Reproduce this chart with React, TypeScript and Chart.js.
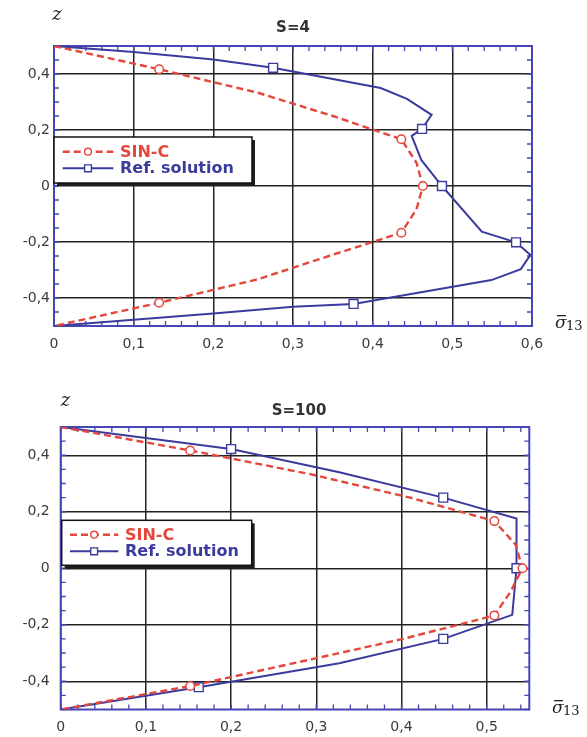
import React, { useEffect, useRef } from 'react';
import { Chart, registerables } from 'chart.js';

Chart.register(...registerables);

// ---------- data ----------
const Z_SINC = [0.5, 0.417, 0.333, 0.25, 0.167, 0.083, 0, -0.083, -0.167, -0.25, -0.333, -0.417, -0.5];
const SINC_MARKS = [1, 4, 6, 8, 11];

const S4_SINC_X = [0, 0.132, 0.256, 0.35, 0.436, 0.455, 0.463, 0.455, 0.436, 0.345, 0.256, 0.132, 0];
const S4_REF_X = [0, 0.1, 0.2, 0.275, 0.41, 0.443, 0.474, 0.462, 0.449, 0.461, 0.487, 0.537, 0.58, 0.598, 0.586, 0.549, 0.376, 0.3, 0.2, 0.1, 0];
const S4_REF_Z = [0.5, 0.479, 0.452, 0.422, 0.35, 0.311, 0.254, 0.204, 0.179, 0.093, 0, -0.163, -0.201, -0.246, -0.297, -0.336, -0.421, -0.431, -0.455, -0.478, -0.5];
const S4_REF_MARKS = [3, 7, 10, 12, 16];

const S100_SINC_X = [0, 0.152, 0.293, 0.41, 0.509, 0.534, 0.542, 0.528, 0.509, 0.402, 0.278, 0.152, 0];
const S100_REF_X = [0, 0.2, 0.327, 0.449, 0.535, 0.535, 0.53, 0.449, 0.327, 0.162, 0];
const S100_REF_Z = [0.5, 0.422, 0.34, 0.25, 0.176, 0, -0.165, -0.25, -0.336, -0.421, -0.5];
const S100_REF_MARKS = [1, 3, 5, 7, 9];

const Y_TICKS = [-0.4, -0.2, 0, 0.2, 0.4];
const S4_X_TICKS = [0, 0.1, 0.2, 0.3, 0.4, 0.5, 0.6];
const S100_X_TICKS = [0, 0.1, 0.2, 0.3, 0.4, 0.5];
const X_MINOR = 0.02;
const Y_MINOR = 0.05;
const LEGEND_LABELS = ['SIN-C', 'Ref. solution'];
const TITLES = ['S=4', 'S=100'];

// ---------- styles ----------
const RED = '#e4473c';
const BLUE = '#3b3b9e';
const AXIS_BLUE = '#4646b4';
const GRID = '#222222';
const TXT = '#3a3a3a';

const fmt = (v: number) => (Math.abs(v) < 1e-9 ? '0' : Number(v).toFixed(1).replace('.', ','));

function drawMarker(ctx: CanvasRenderingContext2D, style: string, x: number, y: number, r: number, color: string) {
  ctx.save();
  ctx.setLineDash([]);
  ctx.fillStyle = '#fff';
  ctx.strokeStyle = color;
  ctx.lineWidth = 1.4;
  ctx.beginPath();
  if (style === 'circle') ctx.arc(x, y, r, 0, Math.PI * 2);
  else ctx.rect(x - r, y - r, 2 * r, 2 * r);
  ctx.fill();
  ctx.stroke();
  ctx.restore();
}

function decoPlugin(p: any) {
  return {
    id: 'deco',
    beforeDatasetsDraw(chart: any) {
      const { ctx, chartArea: a, scales } = chart;
      const x = scales.x;
      const y = scales.y;
      ctx.save();
      ctx.strokeStyle = AXIS_BLUE;
      ctx.lineWidth = 1.3;
      ctx.beginPath();
      const nx = Math.floor(p.xMax / X_MINOR + 1e-6);
      for (let i = 0; i <= nx; i++) {
        const px = x.getPixelForValue(i * X_MINOR);
        ctx.moveTo(px, a.top);
        ctx.lineTo(px, a.top + 5);
        ctx.moveTo(px, a.bottom);
        ctx.lineTo(px, a.bottom - 5);
      }
      const ny = Math.round(1 / Y_MINOR);
      for (let i = 0; i <= ny; i++) {
        const py = y.getPixelForValue(-0.5 + i * Y_MINOR);
        ctx.moveTo(a.left, py);
        ctx.lineTo(a.left + 5, py);
        ctx.moveTo(a.right, py);
        ctx.lineTo(a.right - 5, py);
      }
      ctx.stroke();
      ctx.lineWidth = 2;
      ctx.strokeRect(a.left, a.top, a.right - a.left, a.bottom - a.top);
      ctx.restore();
    },
    afterDraw(chart: any) {
      const { ctx } = chart;
      ctx.save();
      // title
      ctx.fillStyle = '#333';
      ctx.font = 'bold 15px "DejaVu Sans"';
      ctx.textAlign = 'center';
      ctx.textBaseline = 'alphabetic';
      ctx.fillText(p.title, p.titleX, p.titleY);
      // z label
      ctx.fillStyle = '#222';
      ctx.font = 'italic 18px "DejaVu Serif"';
      ctx.fillText('z', p.zX, p.zY);
      // sigma label
      ctx.textAlign = 'left';
      ctx.font = 'italic 17px "DejaVu Serif"';
      ctx.fillText('σ', p.sX, p.sY);
      ctx.fillRect(p.sX + 2, p.barY, 9, 1.3);
      ctx.font = '13px "DejaVu Serif"';
      ctx.fillText('13', p.sX + 11, p.sY + 2);
      // legend
      const L = p.legend;
      ctx.fillStyle = '#1e1e1e';
      ctx.fillRect(L.x + 3, L.y + 3, L.w, L.h);
      ctx.fillStyle = '#fff';
      ctx.fillRect(L.x, L.y, L.w, L.h);
      ctx.strokeStyle = '#111';
      ctx.lineWidth = 1.5;
      ctx.strokeRect(L.x, L.y, L.w, L.h);
      const rows = [L.r1, L.r2];
      const ds = chart.data.datasets;
      ds.forEach((d: any, i: number) => {
        const ry = L.y + rows[i];
        ctx.save();
        ctx.strokeStyle = d.borderColor;
        ctx.lineWidth = d.borderWidth;
        ctx.setLineDash(d.borderDash || []);
        ctx.beginPath();
        ctx.moveTo(L.x + L.lx0, ry);
        ctx.lineTo(L.x + L.lx1, ry);
        ctx.stroke();
        ctx.restore();
        drawMarker(ctx, d.pointStyle, L.x + (L.lx0 + L.lx1) / 2, ry, 3.4, d.borderColor);
        ctx.fillStyle = d.borderColor;
        ctx.font = 'bold 16px "DejaVu Sans"';
        ctx.textAlign = 'left';
        ctx.textBaseline = 'middle';
        ctx.fillText(LEGEND_LABELS[i], L.x + L.tx, ry + 1);
      });
      ctx.restore();
    },
  };
}

function makeConfig(p: any) {
  const sinc = p.sincX.map((x: number, i: number) => ({ x, y: Z_SINC[i] }));
  const ref = p.refX.map((x: number, i: number) => ({ x, y: p.refZ[i] }));
  const tickFont = { family: '"DejaVu Sans"', size: 14 };
  return {
    type: 'line',
    data: {
      datasets: [
        {
          label: LEGEND_LABELS[0],
          data: sinc,
          borderColor: RED,
          borderWidth: 2.4,
          borderDash: [7, 4],
          pointStyle: 'circle',
          pointRadius: sinc.map((_: any, i: number) => (SINC_MARKS.includes(i) ? 4.3 : 0)),
          pointBorderColor: RED,
          pointBackgroundColor: '#fff',
          pointBorderWidth: 1.5,
          fill: false,
          tension: 0,
        },
        {
          label: LEGEND_LABELS[1],
          data: ref,
          borderColor: BLUE,
          borderWidth: 2,
          pointStyle: 'rect',
          pointRadius: ref.map((_: any, i: number) => (p.refMarks.includes(i) ? 6.3 : 0)),
          pointBorderColor: BLUE,
          pointBackgroundColor: '#fff',
          pointBorderWidth: 1.4,
          fill: false,
          tension: 0,
        },
      ],
    },
    options: {
      responsive: false,
      animation: false,
      devicePixelRatio: 1,
      events: [],
      layout: { padding: p.padding },
      plugins: { legend: { display: false }, tooltip: { enabled: false }, title: { display: false } },
      scales: {
        x: {
          type: 'linear',
          min: 0,
          max: p.xMax,
          afterBuildTicks: (s: any) => {
            s.ticks = p.xTicks.map((v: number) => ({ value: v }));
          },
          afterFit: (s: any) => {
            s.height = p.xAxisH;
          },
          ticks: { callback: (v: any) => fmt(Number(v)), padding: p.xPad, color: TXT, font: tickFont, maxRotation: 0, autoSkip: false },
          grid: { color: GRID, lineWidth: 1.5, drawTicks: false },
          border: { display: false },
        },
        y: {
          type: 'linear',
          min: -0.5,
          max: 0.5,
          afterBuildTicks: (s: any) => {
            s.ticks = Y_TICKS.map((v) => ({ value: v }));
          },
          afterFit: (s: any) => {
            s.width = p.yAxisW;
          },
          ticks: { callback: (v: any) => fmt(Number(v)), padding: p.yPad, color: TXT, font: tickFont, autoSkip: false },
          grid: { color: GRID, lineWidth: 1.5, drawTicks: false },
          border: { display: false },
        },
      },
    },
    plugins: [decoPlugin(p)],
  };
}

const TOP_PANEL = {
  sincX: S4_SINC_X,
  refX: S4_REF_X,
  refZ: S4_REF_Z,
  refMarks: S4_REF_MARKS,
  xMax: 0.6,
  xTicks: S4_X_TICKS,
  padding: { left: 0, top: 46, right: 55, bottom: 0 },
  yAxisW: 54,
  xAxisH: 39,
  xPad: 10,
  yPad: 4,
  title: TITLES[0],
  titleX: 293,
  titleY: 32,
  zX: 57,
  zY: 20,
  sX: 555,
  sY: 328,
  barY: 315,
  legend: { x: 54, y: 137, w: 198, h: 46, lx0: 8.7, lx1: 59.3, tx: 66, r1: 14.7, r2: 31.3 },
};

const BOTTOM_PANEL = {
  sincX: S100_SINC_X,
  refX: S100_REF_X,
  refZ: S100_REF_Z,
  refMarks: S100_REF_MARKS,
  xMax: 0.55,
  xTicks: S100_X_TICKS,
  padding: { left: 0, top: 62, right: 57.7, bottom: 0 },
  yAxisW: 60.7,
  xAxisH: 27.5,
  xPad: 9,
  yPad: 11,
  title: TITLES[1],
  titleX: 299,
  titleY: 50,
  zX: 65.5,
  zY: 41,
  sX: 552,
  sY: 348,
  barY: 335,
  legend: { x: 61.7, y: 155.3, w: 190, h: 45, lx0: 8.3, lx1: 56.6, tx: 63.3, r1: 14.4, r2: 31 },
};

function Panel({ spec, top, height }: { spec: any; top: number; height: number }) {
  const ref = useRef<HTMLCanvasElement | null>(null);
  useEffect(() => {
    const chart = new Chart(ref.current as HTMLCanvasElement, makeConfig(spec) as any);
    return () => chart.destroy();
  }, [spec]);
  return (
    <canvas
      ref={ref}
      width={587}
      height={height}
      style={{ position: 'absolute', left: 0, top, width: 587, height, display: 'block' }}
    />
  );
}

export default function App() {
  return (
    <div style={{ position: 'absolute', left: 0, top: 0, width: 587, height: 737, background: '#fff', overflow: 'hidden' }}>
      <Panel spec={TOP_PANEL} top={0} height={365} />
      <Panel spec={BOTTOM_PANEL} top={365} height={372} />
    </div>
  );
}
